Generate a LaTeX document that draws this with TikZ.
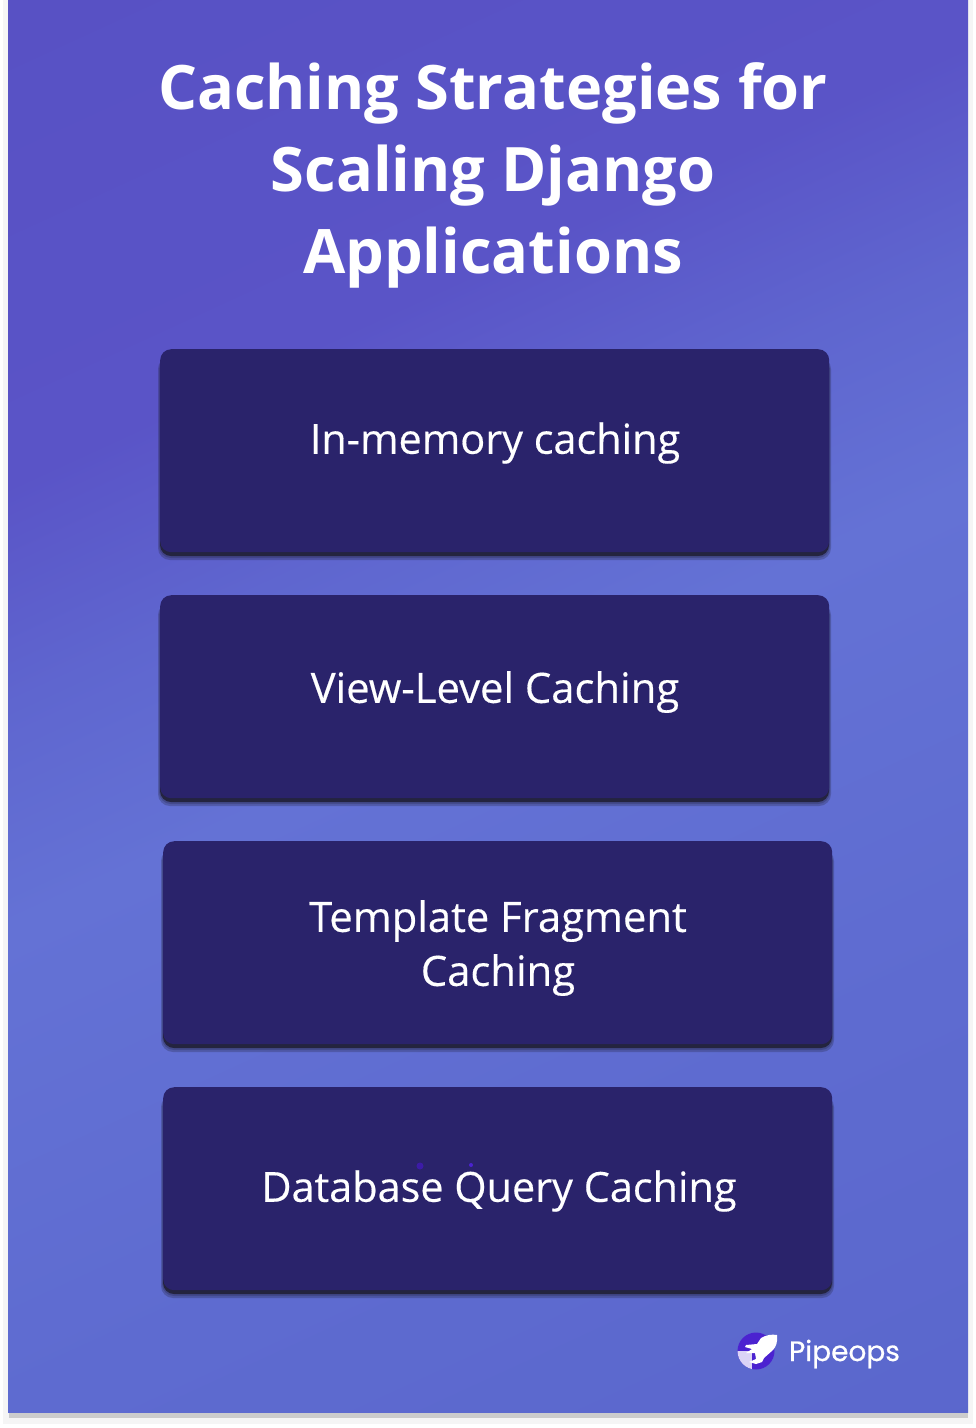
\documentclass[tikz,border=0pt]{standalone}
\usepackage{fontspec}
\setmainfont{Open Sans}
\newfontfamily\cardfont[FakeBold=0.35]{Open Sans}
\newfontfamily\logofont[FakeBold=0.6]{Poppins}
\definecolor{bgS}{HTML}{5965CB}
\definecolor{bgT}{HTML}{5E6BD0}
\definecolor{bgA}{HTML}{6472D5}
\definecolor{bgB}{HTML}{5F66CF}
\definecolor{bgC}{HTML}{5A54C7}
\definecolor{bgD}{HTML}{5750C3}
\definecolor{cardfill}{HTML}{2A236B}
\definecolor{cardedge}{HTML}{24243F}
\definecolor{logopurple}{HTML}{4B22D0}
\pgfdeclareverticalshading{panelgrad}{100bp}{
  color(0bp)=(bgS);
  color(28bp)=(bgT);
  color(50bp)=(bgA);
  color(60bp)=(bgB);
  color(70bp)=(bgC);
  color(100bp)=(bgD)}
\tikzset{
  cardbox/.style={draw=none,fill=cardfill,rounded corners=11pt,minimum width=669pt,minimum height=203pt,anchor=north west,inner sep=0pt},
  cardshadow/.style={fill=cardedge,rounded corners=11pt},
  softshadow/.style={fill=cardedge,opacity=.28,rounded corners=12pt},
  cardtext/.style={text=white,font=\cardfont\fontsize{41.4}{54}\selectfont,align=center,inner sep=0pt},
  cardtextwide/.style={text=white,font=\cardfont\fontsize{41.8}{54}\selectfont,align=center,inner sep=0pt},
  titletext/.style={text=white,font=\fontsize{61.3}{82}\selectfont\bfseries,align=center,inner sep=0pt},
}
\begin{document}
\begin{tikzpicture}[x=1pt,y=-1pt]
\useasboundingbox (0,0) rectangle (976,1428);
\fill[black!4] (3,0) rectangle (973,1424);
\fill[black!20] (9,1400) rectangle (968,1418);
\begin{scope}
\clip (8,0) rectangle (968,1412);
\node[inner sep=0pt,transform canvas={shift={(488,706)},rotate=24.7,scale=20}] (bg) at (0,0) {\pgfuseshading{panelgrad}};
\end{scope}
\node[titletext] (title) at (493,175) {Caching Strategies for\\Scaling Django\\Applications};
\foreach \nm/\xx/\yy in {a/160/349,b/160/595,c/163/841,d/163/1087}{
  \fill[softshadow] (\xx-2,\yy+8) rectangle (\xx+671,\yy+211);
  \fill[softshadow] (\xx-1,\yy+8) rectangle (\xx+670,\yy+209);
  \fill[cardshadow] (\xx,\yy+8) rectangle (\xx+669,\yy+207);
  \node[cardbox] (\nm) at (\xx,\yy) {};
}
\node[cardtext] (ta) at (495,443) {In-memory caching};
\node[cardtextwide] (tb) at (495,692) {View-Level Caching};
\node[cardtextwide] (tc) at (498,948) {Template Fragment\\Caching};
\node[cardtext] (td) at (499,1191) {Database Query Caching};
\fill[logopurple!80!black] (420,1166) circle (3.5);
\fill[logopurple] (471,1165) circle (2);
% logo
\fill[logopurple] (756,1351) circle (18.5);
\begin{scope}
\clip (756,1351) circle (18.5);
\fill[white!80!logopurple] (737,1351) -- (752,1351) -- (752,1372) -- (737,1372) -- cycle;
\end{scope}
\fill[white] (761,1338) .. controls (766,1335) and (772,1334) .. (777,1335)
  .. controls (778,1341) and (776,1347) .. (773,1350)
  -- (764,1358) -- (762,1362) -- (756,1364) -- (749,1362) -- (756,1359) -- (755,1353)
  -- (746,1353) -- (752,1349) -- (745,1347) -- (746,1345) -- (757,1344) -- cycle;
\node[text=white,inner sep=0pt,font=\logofont\fontsize{28}{28}\selectfont,anchor=center] (logo) at (844.5,1354) {Pipeops};
\end{tikzpicture}
\end{document}
